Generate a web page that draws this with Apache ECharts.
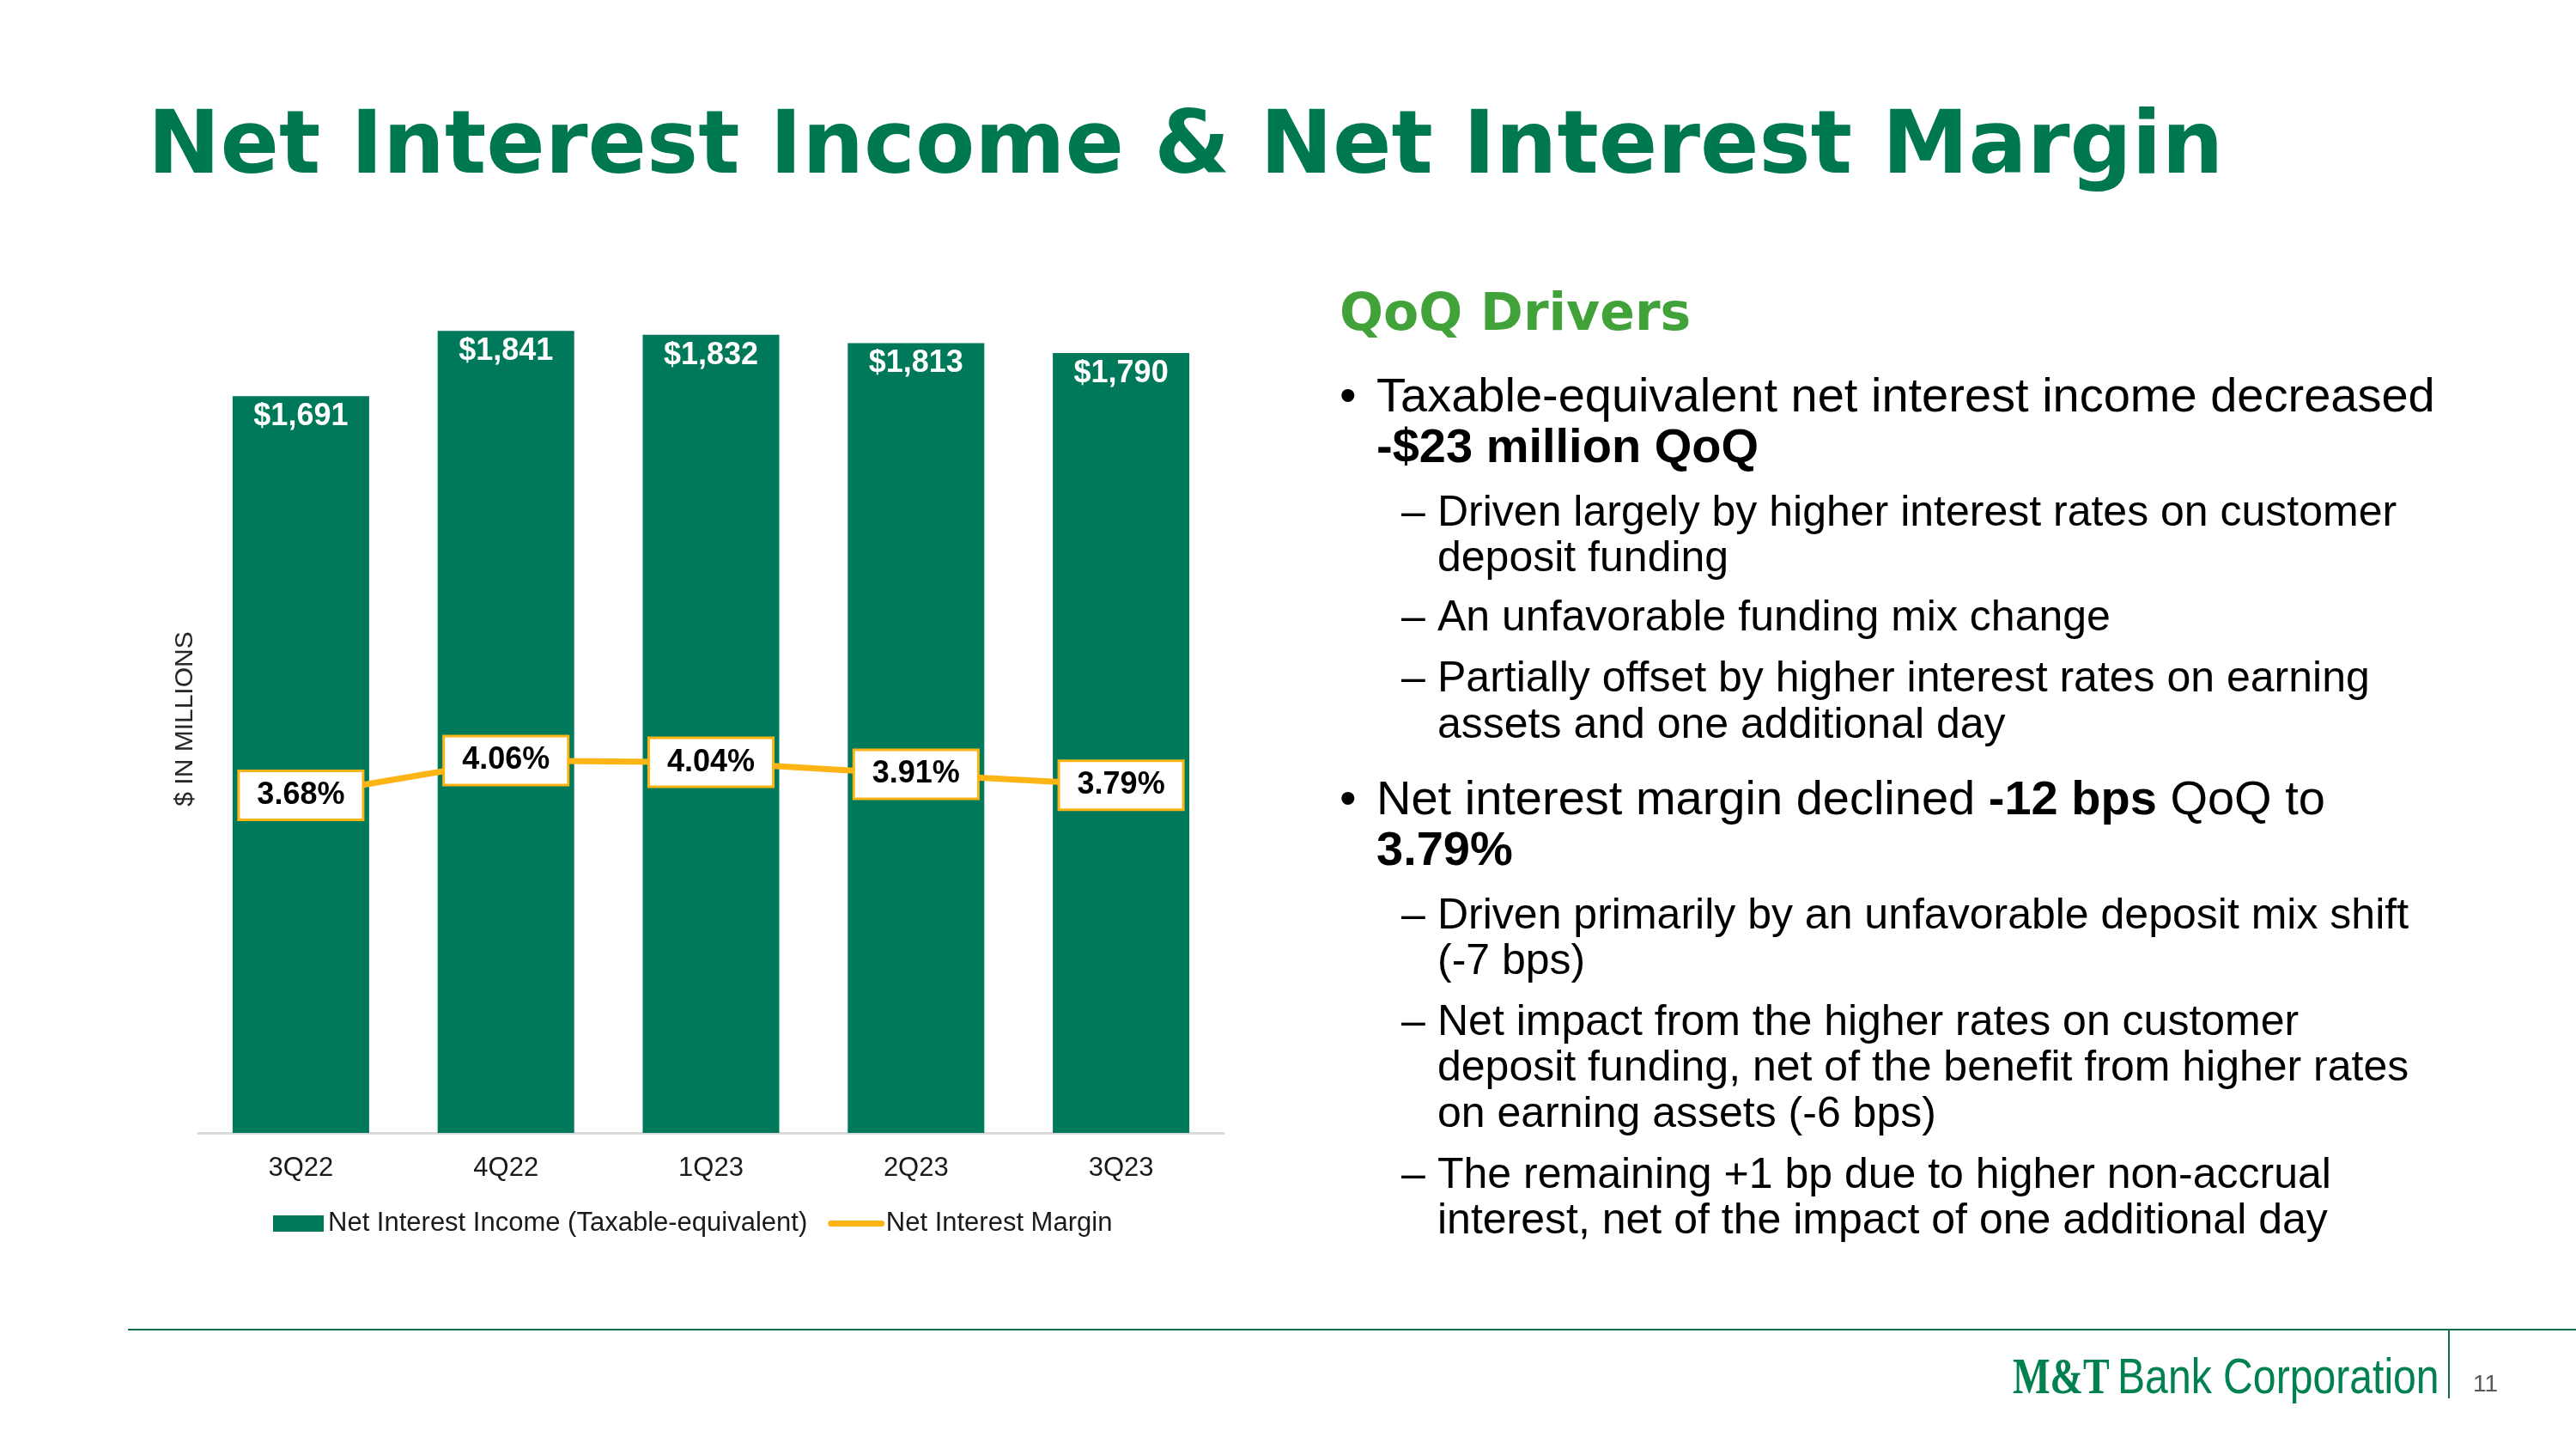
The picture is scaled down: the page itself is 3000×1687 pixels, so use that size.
<!DOCTYPE html>
<html><head><meta charset="utf-8">
<script src="https://cdn.jsdelivr.net/npm/echarts@6/dist/echarts.min.js"></script>
<style>html,body{margin:0;padding:0;background:#fff}#c{width:3000px;height:1687px}</style>
</head><body><div id="c"></div>
<script>
const categories = ['3Q22', '4Q22', '1Q23', '2Q23', '3Q23'];
const netInterestIncome = [1691, 1841, 1832, 1813, 1790];
const netInterestMargin = [3.68, 4.06, 4.04, 3.91, 3.79];
const seriesNames = ['Net Interest Income (Taxable-equivalent)', 'Net Interest Margin'];

const GREEN = '#00785A';
const GOLD = '#FDB515';
const SANS = "'Liberation Sans', Arial, sans-serif";
const HEAVY = "'DejaVu Sans', sans-serif";

function txt(x, y, text, size, opts) {
  opts = opts || {};
  return {
    type: 'text', x: x, y: y, scaleX: opts.scaleX || 1,
    style: {
      text: text, fontSize: size, fontFamily: opts.family || SANS,
      fontWeight: opts.weight || 'normal', fill: opts.color || '#000',
      verticalAlign: 'middle', align: opts.align || 'left',
      rich: {
        n: { fontSize: size, fontFamily: SANS, fill: '#000', fontWeight: 'normal' },
        b: { fontSize: size, fontFamily: SANS, fill: '#000', fontWeight: 'bold' }
      }
    }
  };
}

const MAIN = 56, SUB = 50;
const bx = 1560, tx = 1603, dx = 1632, sx = 1674;
const o = 3;

const graphics = [
  txt(172, 175, 'Net Interest Income & Net Interest Margin', 101, { family: HEAVY, weight: 'bold', color: '#00784F' }),
  txt(1560, 368, 'QoQ Drivers', 60, { family: HEAVY, weight: 'bold', color: '#41A23A' }),
  txt(bx, 461 + o, '•', MAIN),
  txt(tx, 461 + o, 'Taxable-equivalent net interest income decreased', MAIN),
  txt(tx, 520 + o, '{b|-$23 million QoQ}', MAIN),
  txt(dx, 595 + o, '–', SUB),
  txt(sx, 595 + o, 'Driven largely by higher interest rates on customer', SUB),
  txt(sx, 648 + o, 'deposit funding', SUB),
  txt(dx, 717 + o, '–', SUB),
  txt(sx, 717 + o, 'An unfavorable funding mix change', SUB),
  txt(dx, 788 + o, '–', SUB),
  txt(sx, 788 + o, 'Partially offset by higher interest rates on earning', SUB),
  txt(sx, 842 + o, 'assets and one additional day', SUB),
  txt(bx, 930 + o, '•', MAIN),
  txt(tx, 930 + o, '{n|Net interest margin declined }{b|-12 bps}{n| QoQ to}', MAIN),
  txt(tx, 989 + o, '{b|3.79%}', MAIN),
  txt(dx, 1064 + o, '–', SUB),
  txt(sx, 1064 + o, 'Driven primarily by an unfavorable deposit mix shift', SUB),
  txt(sx, 1117 + o, '(-7 bps)', SUB),
  txt(dx, 1188 + o, '–', SUB),
  txt(sx, 1188 + o, 'Net impact from the higher rates on customer', SUB),
  txt(sx, 1241 + o, 'deposit funding, net of the benefit from higher rates', SUB),
  txt(sx, 1295 + o, 'on earning assets (-6 bps)', SUB),
  txt(dx, 1366 + o, '–', SUB),
  txt(sx, 1366 + o, 'The remaining +1 bp due to higher non-accrual', SUB),
  txt(sx, 1419 + o, 'interest, net of the impact of one additional day', SUB),
  {
    type: 'text', x: 216, y: 837, rotation: Math.PI / 2,
    style: { text: '$ IN MILLIONS', fontSize: 30, fontFamily: SANS, fill: '#262626', align: 'center', verticalAlign: 'middle' }
  },
  { type: 'line', shape: { x1: 149, y1: 1548, x2: 3000, y2: 1548 }, style: { stroke: '#0B6B4B', lineWidth: 2 } },
  { type: 'line', shape: { x1: 2852, y1: 1549, x2: 2852, y2: 1628 }, style: { stroke: '#0B6B4B', lineWidth: 2 } },
  txt(2344, 1606, 'M&T', 60, { family: "'Liberation Serif', serif", weight: 'bold', color: '#00814F', scaleX: 0.77 }),
  txt(2466, 1606, 'Bank Corporation', 58, { color: '#00814F', scaleX: 0.83 }),
  txt(2880, 1612, '11', 28, { color: '#595959' })
];

const option = {
  backgroundColor: '#fff',
  animation: false,
  grid: { left: 231, right: 1575, top: 304.6, bottom: 368, containLabel: false },
  legend: {
    left: 318, top: 1409, padding: 0, itemGap: 24, itemWidth: 59, itemHeight: 19,
    textStyle: { fontSize: 31, fontFamily: SANS, color: '#1a1a1a' },
    lineStyle: { width: 7, cap: 'round' },
    data: [
      { name: seriesNames[0], icon: 'rect' },
      { name: seriesNames[1], itemStyle: { opacity: 0 } }
    ]
  },
  xAxis: {
    type: 'category', data: categories,
    axisTick: { show: false },
    axisLine: { lineStyle: { color: '#D9D9D9', width: 3 } },
    axisLabel: { fontSize: 31, fontFamily: SANS, color: '#1a1a1a', margin: 26 }
  },
  yAxis: [
    { type: 'value', min: 0, max: 2000, show: false, splitLine: { show: false } },
    { type: 'value', min: 0, max: 9.5, show: false, splitLine: { show: false } }
  ],
  series: [
    {
      name: seriesNames[0], type: 'bar', data: netInterestIncome, barWidth: 159,
      itemStyle: { color: GREEN },
      label: {
        show: true, position: 'insideTop', distance: 6, color: '#fff',
        fontSize: 36, fontWeight: 'bold', fontFamily: SANS,
        formatter: p => '$' + p.value.toLocaleString('en-US')
      }
    },
    {
      name: seriesNames[1], type: 'line', yAxisIndex: 1, data: netInterestMargin,
      symbol: 'circle', symbolSize: 2, showSymbol: true,
      lineStyle: { color: GOLD, width: 7 }, itemStyle: { color: GOLD },
      label: {
        show: true, position: 'inside', color: '#000', fontSize: 36, fontWeight: 'bold', fontFamily: SANS,
        backgroundColor: '#fff', borderColor: GOLD, borderWidth: 3, padding: [9, 20],
        formatter: p => p.value.toFixed(2) + '%'
      },
      z: 5
    }
  ],
  graphic: graphics
};

const chart = echarts.init(document.getElementById('c'));
chart.setOption(option);
</script></body></html>
